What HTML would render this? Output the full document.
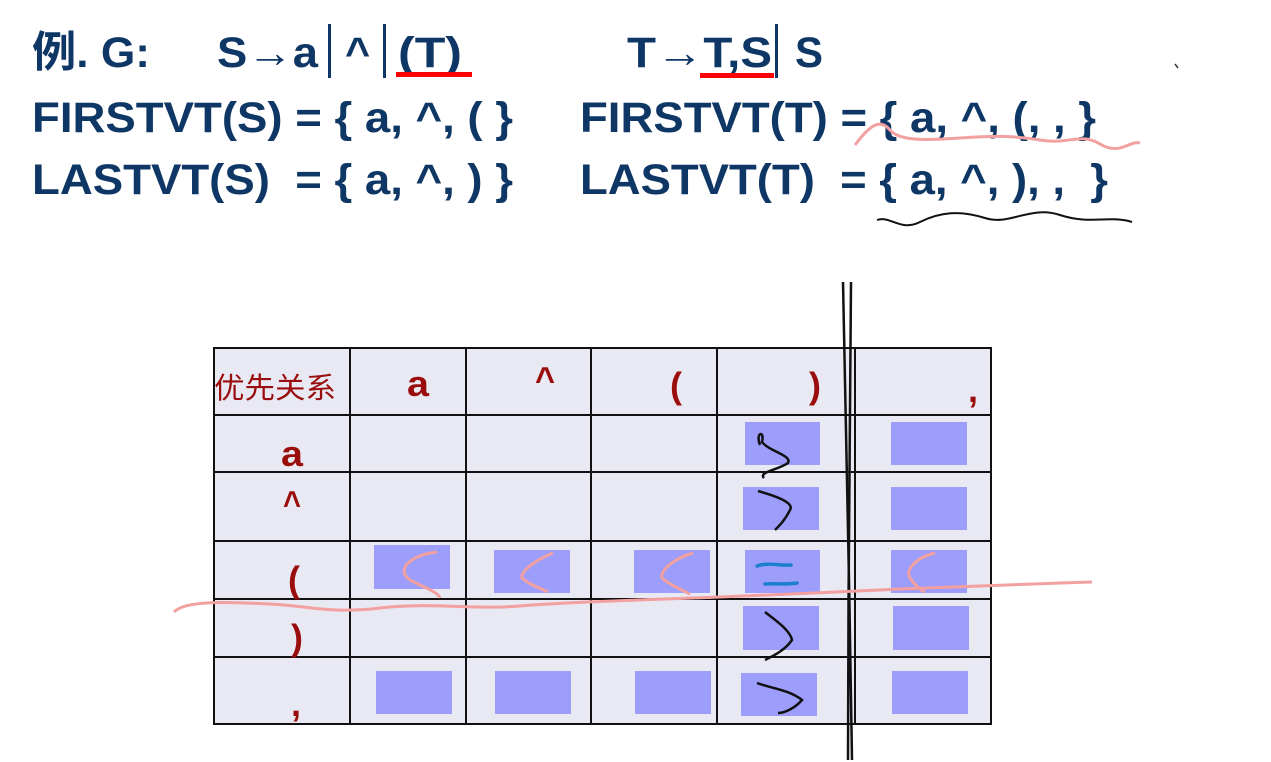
<!DOCTYPE html>
<html><head><meta charset="utf-8"><style>
html,body{margin:0;padding:0;background:#fff;}
svg{display:block;}
.h{font-family:"Liberation Sans","Noto Sans CJK SC",sans-serif;font-weight:bold;font-size:43px;fill:#0f3766;}
.t{font-family:"Liberation Sans",sans-serif;font-weight:bold;font-size:36px;fill:#9a0d0d;}
</style></head><body>
<svg width="1271" height="762" viewBox="0 0 1271 762" xmlns="http://www.w3.org/2000/svg">
<rect width="1271" height="762" fill="#fff"/>
<text class="h" x="32" y="67" textLength="118" lengthAdjust="spacingAndGlyphs">例. G:</text>
<text class="h" x="217" y="67" textLength="101" lengthAdjust="spacingAndGlyphs">S→a</text>
<rect x="328" y="24" width="3" height="54" fill="#0f3766"/>
<text class="h" x="345" y="67">^</text>
<rect x="383" y="24" width="3" height="54" fill="#0f3766"/>
<text class="h" x="398" y="67" textLength="64" lengthAdjust="spacingAndGlyphs">(T)</text>
<rect x="396" y="72" width="76" height="5" fill="#f00"/>
<text class="h" x="627" y="67" textLength="145" lengthAdjust="spacingAndGlyphs">T→T,S</text>
<rect x="775" y="24" width="3" height="54" fill="#0f3766"/>
<text class="h" x="795" y="67" textLength="28" lengthAdjust="spacingAndGlyphs">S</text>
<rect x="700" y="73" width="74" height="5" fill="#f00"/>

<text class="h" x="32" y="132" textLength="481" lengthAdjust="spacingAndGlyphs">FIRSTVT(S) = { a, ^, ( }</text>
<text class="h" x="580" y="132" textLength="516" lengthAdjust="spacingAndGlyphs">FIRSTVT(T) = { a, ^, (, , }</text>
<text class="h" x="32" y="194" textLength="481" lengthAdjust="spacingAndGlyphs" xml:space="preserve">LASTVT(S)  = { a, ^, ) }</text>
<text class="h" x="580" y="194" textLength="528" lengthAdjust="spacingAndGlyphs" xml:space="preserve">LASTVT(T)  = { a, ^, ), ,  }</text>

<path d="M855 145 C870 125,880 118,890 130 S930 140,960 138 S1010 135,1040 140 S1080 132,1100 144 S1130 140,1140 143" stroke="#f2a0a0" stroke-width="3" fill="none"/>
<path d="M877 220 C890 215,900 232,920 222 S960 210,985 218 S1030 205,1060 215 S1110 215,1132 222" stroke="#111" stroke-width="2" fill="none"/>
<path d="M1175 64 L1178 68" stroke="#333" stroke-width="1.5"/>

<rect x="214" y="348" width="777" height="376" fill="#e9e9f3"/>
<g fill="#9d9dfc">
<rect x="745" y="422" width="75" height="43"/><rect x="891" y="422" width="76" height="43"/>
<rect x="743" y="487" width="76" height="43"/><rect x="891" y="487" width="76" height="43"/>
<rect x="374" y="545" width="76" height="44"/><rect x="494" y="550" width="76" height="43"/><rect x="634" y="550" width="76" height="43"/><rect x="745" y="550" width="75" height="43"/><rect x="891" y="550" width="76" height="43"/>
<rect x="743" y="606" width="76" height="44"/><rect x="893" y="606" width="76" height="44"/>
<rect x="376" y="671" width="76" height="43"/><rect x="495" y="671" width="76" height="43"/><rect x="635" y="671" width="76" height="43"/><rect x="741" y="673" width="76" height="43"/><rect x="892" y="671" width="76" height="43"/>
</g>
<g stroke="#111" stroke-width="2" fill="none">
<rect x="214" y="348" width="777" height="376"/>
<line x1="350" y1="348" x2="350" y2="724"/><line x1="466" y1="348" x2="466" y2="724"/><line x1="591" y1="348" x2="591" y2="724"/><line x1="717" y1="348" x2="717" y2="724"/><line x1="855" y1="348" x2="855" y2="724"/>
<line x1="214" y1="415" x2="991" y2="415"/><line x1="214" y1="472" x2="991" y2="472"/><line x1="214" y1="541" x2="991" y2="541"/><line x1="214" y1="599" x2="991" y2="599"/><line x1="214" y1="657" x2="991" y2="657"/>
</g>
<text x="214" y="398" font-family="'Noto Sans CJK SC',sans-serif" font-size="29" fill="#9a0d0d" textLength="122" lengthAdjust="spacingAndGlyphs">优先关系</text>
<text class="t" x="407" y="396" textLength="22" lengthAdjust="spacingAndGlyphs">a</text>
<text class="t" x="535" y="392" textLength="20" lengthAdjust="spacingAndGlyphs">^</text>
<text class="t" x="670" y="398">(</text>
<text class="t" x="809" y="398">)</text>
<text class="t" x="968" y="402">,</text>
<text class="t" x="281" y="466" textLength="22" lengthAdjust="spacingAndGlyphs">a</text>
<text class="t" x="283" y="516" textLength="18" lengthAdjust="spacingAndGlyphs">^</text>
<text class="t" x="288" y="592">(</text>
<text class="t" x="291" y="650">)</text>
<text class="t" x="291" y="716">,</text>

<g stroke="#111" stroke-width="2.5" fill="none">
<path d="M760 445 C755 432,765 430,762 442 C770 452,792 455,788 463 C778 470,758 472,764 478"/>
<path d="M758 491 C772 495,795 502,790 510 C785 520,780 525,775 530"/>
<path d="M765 612 C775 620,790 630,792 640 C785 650,775 655,765 660"/>
<path d="M757 683 C770 688,790 690,802 700 C795 708,785 713,778 713"/>
<path d="M843 282 C845 400,850 600,852 760"/>
<path d="M851 282 C850 420,848 600,848 760"/>
</g>
<g stroke="#f2a0a0" stroke-width="3" fill="none">
<path d="M437 552 C410 555,395 570,410 580 C425 588,438 592,440 598"/>
<path d="M553 553 C535 560,520 572,522 578 C530 585,540 588,548 592"/>
<path d="M693 553 C675 558,660 570,662 578 C670 585,682 590,690 594"/>
<path d="M935 553 C915 558,905 570,910 578 C915 585,920 590,925 592"/>
<path d="M174 612 C185 600,230 602,270 604 S330 614,380 608 S470 610,520 606 S640 600,720 597 S830 592,900 589 S1030 584,1092 582"/>
</g>
<g stroke="#1a7fcf" stroke-width="3.5" fill="none" stroke-linecap="round">
<path d="M757 566 C768 562,780 566,791 565"/>
<path d="M765 584 C775 583,785 585,797 583"/>
</g>
</svg>
</body></html>
